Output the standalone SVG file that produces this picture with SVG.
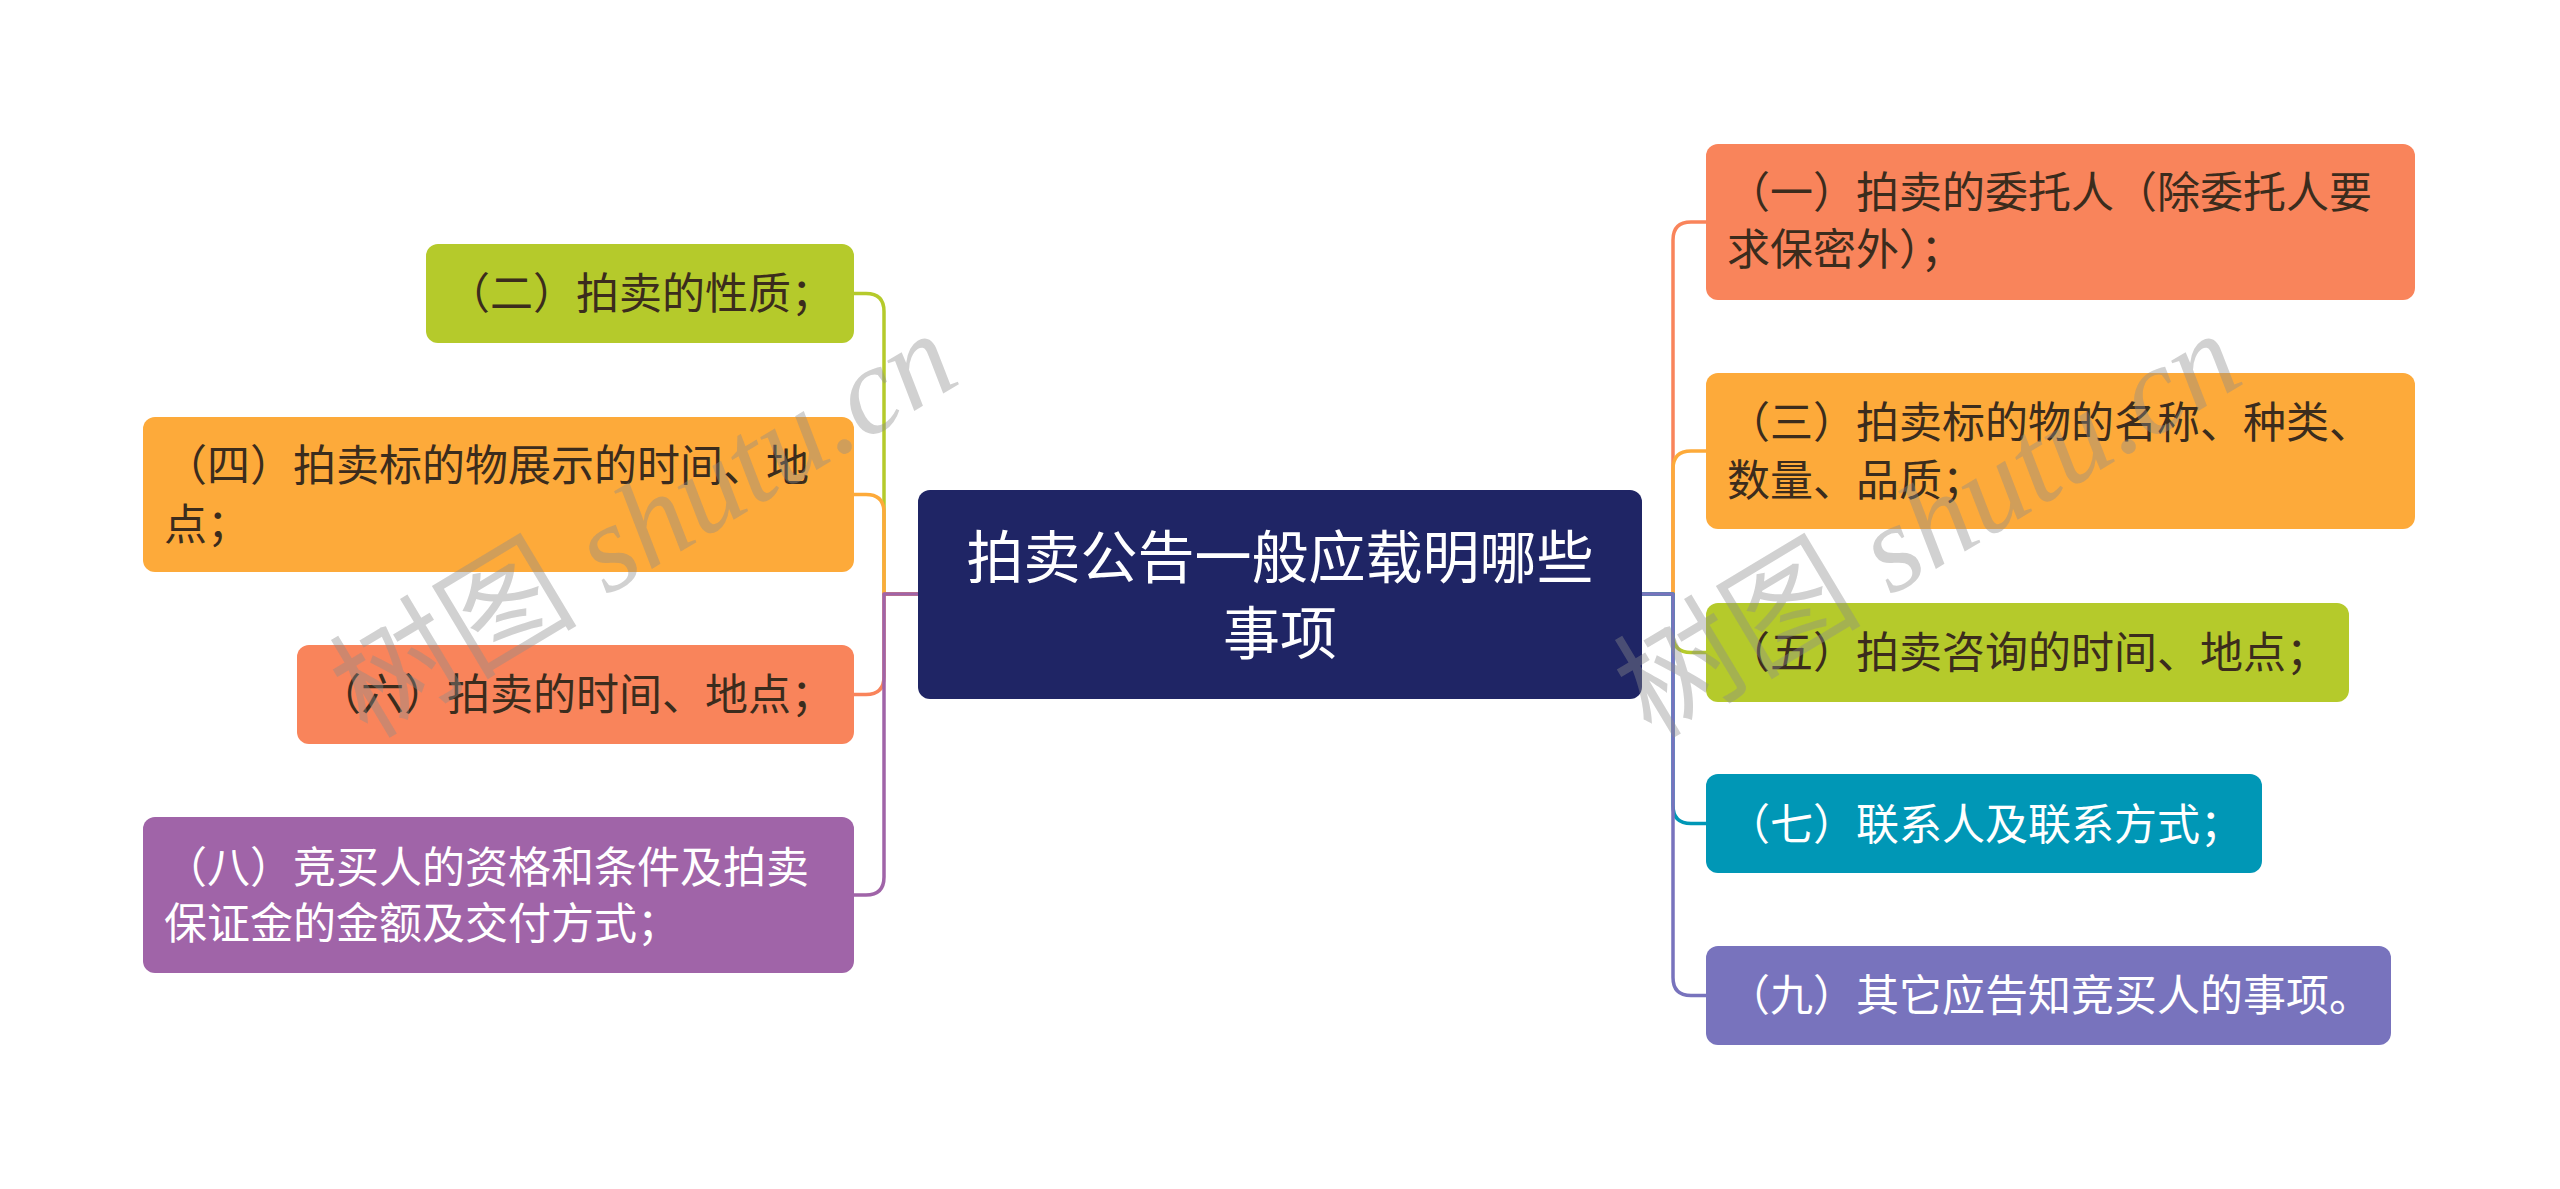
<svg xmlns="http://www.w3.org/2000/svg" width="2560" height="1189" viewBox="0 0 2560 1189">
<style>
.t{font-family:"Noto Sans CJK SC","Noto Sans",sans-serif;font-size:43px;fill:#3b2c1d}
.w{fill:#ffffff}
.c{font-family:"Noto Sans CJK SC","Noto Sans",sans-serif;font-size:57px;fill:#ffffff;text-anchor:middle}
.e{fill:none;stroke-width:3.5;stroke-linejoin:round}
.wm{font-family:"Liberation Serif","Noto Sans CJK SC",serif;font-size:124px;fill:#8c8c8c;fill-opacity:0.4;text-anchor:middle}
</style>
<rect width="2560" height="1189" fill="#ffffff"/>
<g id="connectors">
<path class="e" stroke="#f9845b" d="M1642 594 H1673 V240 Q1673 222 1691 222 H1706"/>
<path class="e" stroke="#fdaa3a" d="M1642 594 H1673 V469 Q1673 451 1691 451 H1706"/>
<path class="e" stroke="#b5ca2b" d="M1642 594 H1673 V634.5 Q1673 652.5 1691 652.5 H1706"/>
<path class="e" stroke="#0097b6" d="M1642 594 H1673 V805.5 Q1673 823.5 1691 823.5 H1706"/>
<path class="e" stroke="#7873bd" d="M1642 594 H1673 V977.5 Q1673 995.5 1691 995.5 H1706"/>
<path class="e" stroke="#b5ca2b" d="M918 594 H884 V311.5 Q884 293.5 866 293.5 H854"/>
<path class="e" stroke="#fdaa3a" d="M918 594 H884 V512.5 Q884 494.5 866 494.5 H854"/>
<path class="e" stroke="#f9845b" d="M918 594 H884 V676.5 Q884 694.5 866 694.5 H854"/>
<path class="e" stroke="#a064a8" d="M918 594 H884 V877 Q884 895 866 895 H854"/>
</g>
<g id="center">
<rect x="918" y="490" width="724" height="209" rx="12" fill="#1f2565"/>
<text class="c" x="1280" y="578">拍卖公告一般应载明哪些</text>
<text class="c" x="1280" y="654">事项</text>
</g>
<g id="n1">
<rect x="1706" y="144" width="709" height="156" rx="12" fill="#f9845b"/>
<text class="t" x="1727" y="208">（一）拍卖的委托人（除委托人要</text>
<text class="t" x="1727" y="265">求保密外）；</text>
</g>
<g id="n3">
<rect x="1706" y="373" width="709" height="156" rx="12" fill="#fdaa3a"/>
<text class="t" x="1727" y="438">（三）拍卖标的物的名称、种类、</text>
<text class="t" x="1727" y="496">数量、品质；</text>
</g>
<g id="n5">
<rect x="1706" y="603" width="643" height="99" rx="12" fill="#b5ca2b"/>
<text class="t" x="1727" y="668">（五）拍卖咨询的时间、地点；</text>
</g>
<g id="n7">
<rect x="1706" y="774" width="556" height="99" rx="12" fill="#0097b6"/>
<text class="t w" x="1727" y="840">（七）联系人及联系方式；</text>
</g>
<g id="n9">
<rect x="1706" y="946" width="685" height="99" rx="12" fill="#7873bd"/>
<text class="t w" x="1727" y="1011">（九）其它应告知竞买人的事项。</text>
</g>
<g id="n2">
<rect x="426" y="244" width="428" height="99" rx="12" fill="#b5ca2b"/>
<text class="t" x="447" y="309">（二）拍卖的性质；</text>
</g>
<g id="n4">
<rect x="143" y="417" width="711" height="155" rx="12" fill="#fdaa3a"/>
<text class="t" x="164" y="481">（四）拍卖标的物展示的时间、地</text>
<text class="t" x="164" y="540">点；</text>
</g>
<g id="n6">
<rect x="297" y="645" width="557" height="99" rx="12" fill="#f9845b"/>
<text class="t" x="318" y="710">（六）拍卖的时间、地点；</text>
</g>
<g id="n8">
<rect x="143" y="817" width="711" height="156" rx="12" fill="#a064a8"/>
<text class="t w" x="164" y="883">（八）竞买人的资格和条件及拍卖</text>
<text class="t w" x="164" y="939">保证金的金额及交付方式；</text>
</g>
<g id="watermark">
<text class="wm" x="646" y="566" transform="rotate(-31 646 528)">树图 <tspan font-style="italic">shutu.cn</tspan></text>
<text class="wm" x="1930" y="566" transform="rotate(-31 1930 528)">树图 <tspan font-style="italic">shutu.cn</tspan></text>
</g>
</svg>
